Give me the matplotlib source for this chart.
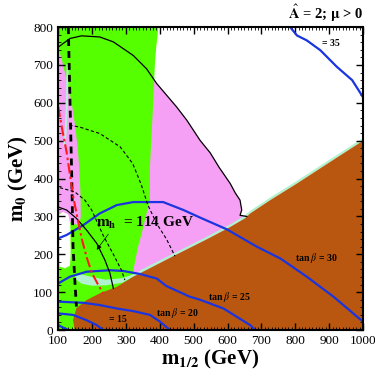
import matplotlib
matplotlib.use('Agg')
import matplotlib.pyplot as plt
from matplotlib.ticker import MultipleLocator

plt.rcParams['font.family'] = ['Liberation Serif', 'DejaVu Serif']
plt.rcParams['mathtext.fontset'] = 'stix'

# region boundaries (m_1/2, m_0) in GeV
pink_x = [100, 135, 169, 223, 263, 322, 361, 391, 450, 480, 519, 549, 575, 608, 623, 637, 642, 637, 657, 657, 100]
pink_y = [747, 770, 777, 774, 761, 725, 690, 651, 589, 554, 501, 468, 430, 387, 362, 343, 317, 303, 300, 0, 0]

green_x = [100, 396, 390, 386, 381, 376, 371, 371, 361, 348, 336, 328, 322, 322, 100]
green_y = [800, 800, 750, 708, 607, 519, 431, 343, 308, 260, 220, 185, 158, 0, 0]

strip_x = [100, 112, 125, 140, 150, 158, 163, 166, 167, 162, 140, 120, 104, 104, 100]
strip_y = [747, 710, 660, 600, 540, 480, 420, 360, 300, 278, 280, 305, 310, 430, 440]

white_x = [103, 115, 130, 136, 137, 135, 120, 104]
white_y = [305, 312, 305, 280, 200, 170, 163, 168]

brown_x = [149, 144, 154, 184, 223, 273, 322, 342, 440, 540, 608, 652, 667, 726, 805, 903, 1000, 1000]
brown_y = [0, 26, 58, 79, 97, 114, 141, 150, 195, 240, 272, 295, 308, 343, 387, 444, 500, 0]

cyan_x = [150, 170, 200, 240, 290, 322, 342, 440, 540, 608, 652, 667, 726, 805, 903, 1000,
          1000, 903, 805, 726, 667, 652, 608, 540, 440, 345, 330, 290, 240, 200, 165, 150]
cyan_y = [135, 122, 117, 118, 125, 141, 150, 195, 240, 272, 295, 308, 343, 387, 444, 500,
          507, 451, 394, 350, 315, 303, 279, 247, 202, 159, 150, 137, 133, 140, 148, 142]

cline_x = [128, 126, 122, 118]
cline_y = [700, 600, 520, 490]

# tan beta contours
tb35_x = [785, 805, 834, 874, 923, 968, 1000]
tb35_y = [800, 778, 765, 739, 695, 660, 615]
tb30_x = [100, 125, 174, 223, 273, 322, 371, 410, 470, 519, 598, 687, 756, 834, 913, 1000]
tb30_y = [242, 251, 277, 308, 330, 338, 338, 338, 317, 297, 266, 220, 189, 141, 88, 22]
tb25_x = [100, 135, 184, 253, 292, 342, 391, 420, 489, 519, 588, 667, 682]
tb25_y = [123, 141, 154, 158, 156, 148, 136, 116, 88, 80, 57, 13, 0]
tb20_x = [100, 174, 223, 273, 322, 371, 401, 430]
tb20_y = [75, 72, 66, 57, 50, 40, 22, 0]
tb15_x = [100, 144, 184, 214, 233]
tb15_y = [44, 40, 26, 13, 0]
tb10_x = [100, 130]
tb10_y = [13, 0]

# other contours
mh_x = [100, 125, 154, 184, 214, 238, 253, 263]
mh_y = [325, 317, 295, 264, 229, 185, 150, 110]
chi_x = [130, 135, 140, 144, 150, 154]
chi_y = [800, 607, 413, 220, 120, 62]
red_x = [100, 112, 125, 135, 145, 155, 170, 185, 200, 218, 233]
red_y = [590, 530, 470, 410, 350, 305, 240, 190, 150, 120, 97]
arc1_x = [133, 164, 223, 283, 320, 345, 365, 391, 420, 445]
arc1_y = [541, 536, 519, 484, 440, 385, 330, 281, 240, 195]
arc2_x = [105, 149, 179, 199, 233, 263, 287, 297]
arc2_y = [376, 365, 343, 317, 250, 200, 158, 132]

fig = plt.figure(figsize=(3.75, 3.82), dpi=100)
ax = fig.add_axes([0.155, 0.136, 0.813, 0.793])

ax.fill(pink_x, pink_y, color='#f5a0f5', lw=0)
ax.fill(green_x, green_y, color='#55ff00', lw=0)
ax.fill(strip_x, strip_y, color='#f5a0f5', lw=0)
ax.fill(white_x, white_y, color='white', lw=0)
ax.plot(cline_x, cline_y, color='#b4f0d8', lw=1.5)
ax.fill(cyan_x, cyan_y, color='#b0f2cf', lw=0)
ax.fill(brown_x, brown_y, color='#b9560f', lw=0)

ax.plot(pink_x[:19], pink_y[:19], color='black', lw=0.9)

for xs, ys in [(tb35_x, tb35_y), (tb30_x, tb30_y), (tb25_x, tb25_y),
               (tb20_x, tb20_y), (tb15_x, tb15_y), (tb10_x, tb10_y)]:
    ax.plot(xs, ys, color='#1a35e0', lw=1.6)

ax.plot(mh_x, mh_y, color='black', lw=0.9)
ax.plot(chi_x, chi_y, color='black', lw=2, ls=(0, (2.5, 1.8)))
ax.plot(red_x, red_y, color='#ff1a1a', lw=1.5, ls=(0, (5, 1.5, 1.2, 1.5)))
ax.plot(arc1_x, arc1_y, color='black', lw=0.8, ls=(0, (3, 2)))
ax.plot(arc2_x, arc2_y, color='black', lw=0.8, ls=(0, (3, 2)))

ax.annotate('', xy=(209, 206), xytext=(253, 259),
            arrowprops=dict(arrowstyle='-|>', color='black', lw=0.5, mutation_scale=7))
ax.text(212, 282, r'$\mathbf{m_h}$  = 114 GeV', fontsize=11, fontweight='bold', va='center')

ax.text(880, 757, '= 35', fontsize=7, fontweight='bold', va='center')
ax.text(862, 190, r'tan $\beta$ = 30', fontsize=7, fontweight='bold', ha='center', va='center')
ax.text(605, 86, r'tan $\beta$ = 25', fontsize=7, fontweight='bold', ha='center', va='center')
ax.text(452, 44, r'tan $\beta$ = 20', fontsize=7, fontweight='bold', ha='center', va='center')
ax.text(275, 29, '= 15', fontsize=7, fontweight='bold', ha='center', va='center')

ax.set_xlim(100, 1000)
ax.set_ylim(0, 800)
ax.xaxis.set_major_locator(MultipleLocator(100))
ax.xaxis.set_minor_locator(MultipleLocator(10))
ax.yaxis.set_major_locator(MultipleLocator(100))
ax.yaxis.set_minor_locator(MultipleLocator(20))
ax.tick_params(which='both', direction='in', top=True, right=True, labelsize=9.5)
ax.tick_params(which='major', length=5, width=1)
ax.tick_params(which='minor', length=2.5, width=0.6)
for s in ax.spines.values():
    s.set_linewidth(1.5)

ax.set_xlabel(r'$\mathbf{m_{1/2}}$ (GeV)', fontsize=15, fontweight='bold', labelpad=1)
ax.set_ylabel(r'$\mathbf{m_0}$ (GeV)', fontsize=15, fontweight='bold', labelpad=2)
ax.set_title(r'$\hat{\mathbf{A}}$ = 2; $\mathbf{\mu}$ > 0', fontsize=10.5, fontweight='bold', loc='right', pad=6)

fig.savefig('out.png', dpi=100)
